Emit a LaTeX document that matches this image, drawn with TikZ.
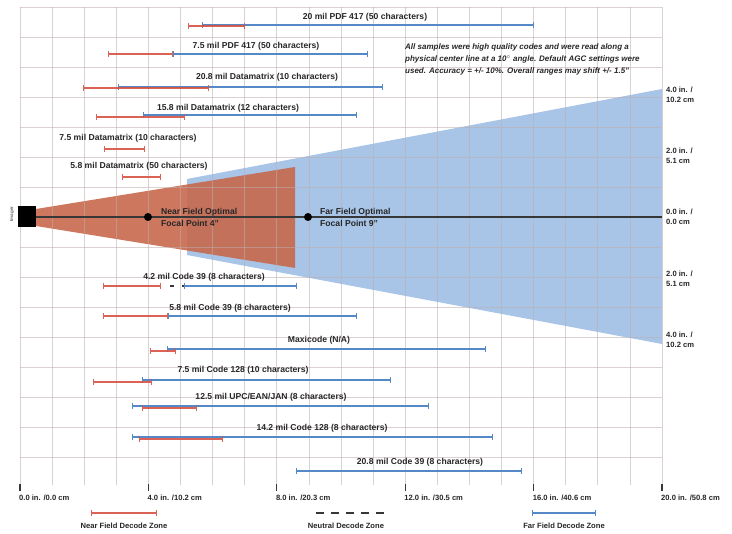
\documentclass[tikz,border=0pt]{standalone}
\usepackage{fontspec}
\setmainfont{Liberation Sans}
\usetikzlibrary{arrows.meta}
\definecolor{gridc}{RGB}{190,172,172}
\definecolor{beamblue}{RGB}{168,197,232}
\definecolor{beamred}{RGB}{200,104,76}
\definecolor{redbar}{RGB}{214,82,68}
\definecolor{bluebar}{RGB}{84,136,198}
\definecolor{darkline}{RGB}{55,55,55}
\tikzset{
  gridline/.style={draw=gridc, line width=0.7pt, opacity=0.55},
  rowlabel/.style={font=\fontsize{8.6}{10}\selectfont\bfseries, text=black!85, inner sep=0pt},
  smalllabel/.style={font=\fontsize{7.6}{9.6}\selectfont\bfseries, text=black!85, inner sep=0pt, align=left},
  redrange/.style={draw=redbar, line width=1.6pt, opacity=0.9, {Bar[width=6pt,line width=1.1pt]}-{Bar[width=6pt,line width=1.1pt]}},
  bluerange/.style={draw=bluebar, line width=1.6pt, {Bar[width=6pt,line width=1.1pt]}-{Bar[width=6pt,line width=1.1pt]}},
  neutralrange/.style={draw=darkline, line width=1.6pt, dash pattern=on 8pt off 7pt},
  axistick/.style={draw=darkline, line width=1.1pt},
  focaldot/.style={circle, fill=black, inner sep=0pt, minimum size=8pt},
}
\begin{document}
\begin{tikzpicture}[x=1pt,y=-1pt]
\useasboundingbox (0,0) rectangle (732,534);
% beams
\fill[beamblue] (187,179) -- (662,89) -- (662,344) -- (187,255) -- cycle;
\fill[beamred, opacity=0.9] (36,209) -- (295,167) -- (295,268) -- (36,226) -- cycle;
% grid
\foreach \i in {0,...,20} { \draw[gridline] ({20+32.1*\i},7) -- ({20+32.1*\i},485); }
\foreach \j in {0,...,15} { \draw[gridline] (20,{7+30*\j}) -- (662,{7+30*\j}); }
% imager and center line
\node[draw=none, fill=black, minimum width=18pt, minimum height=21pt, inner sep=0pt] (imager) at (27,217) {};
\node[rotate=90, font=\fontsize{4.5}{5}\selectfont\bfseries, text=black!60, inner sep=0pt] (imagerlabel) at (12,214) {Imager};
\coordinate (lineend) at (662,217);
\draw[darkline, line width=1.5pt] (imager.east) -- (lineend);
\node[focaldot] (near) at (148,217) {};
\node[focaldot] (far) at (308,217) {};
\node[rowlabel, anchor=west, align=left, font=\fontsize{8.6}{12}\selectfont\bfseries] (nearlab) at (161,217.5) {Near Field Optimal\\Focal Point 4"};
\node[rowlabel, anchor=west, align=left, font=\fontsize{8.6}{12}\selectfont\bfseries] (farlab) at (320,217.5) {Far Field Optimal\\Focal Point 9"};
% right scale labels
\node[smalllabel, anchor=west] (r1) at (666,95) {4.0 in. /\\10.2 cm};
\node[smalllabel, anchor=west] (r2) at (666,155.5) {2.0 in. /\\5.1 cm};
\node[smalllabel, anchor=west] (r3) at (666,216.5) {0.0 in. /\\0.0 cm};
\node[smalllabel, anchor=west] (r4) at (666,278.5) {2.0 in. /\\5.1 cm};
\node[smalllabel, anchor=west] (r5) at (666,339.5) {4.0 in. /\\10.2 cm};
% note
\node[anchor=north west, align=left, inner sep=0pt, font=\fontsize{8.0}{12}\selectfont\bfseries\itshape, text=black!85] (note) at (405,43.5) {All samples were high quality codes and were read along a\\physical center line at a 10$^\circ$ angle.  Default AGC settings were\\used. Accuracy = +/- 10\%. Overall ranges may shift +/- 1.5"};
% rows
\node[rowlabel] (l1) at (365,17) {20 mil PDF 417 (50 characters)};
\draw[bluerange] (202,25) -- (534,25);
\draw[redrange] (188,26) -- (245,26);
\node[rowlabel] (l2) at (256,46) {7.5 mil PDF 417 (50 characters)};
\draw[bluerange] (173,54) -- (368,54);
\draw[redrange] (108,54) -- (173,54);
\node[rowlabel] (l3) at (267,77) {20.8 mil Datamatrix (10 characters)};
\draw[bluerange] (118,87) -- (383,87);
\draw[redrange] (83,88) -- (209,88);
\node[rowlabel] (l4) at (228,108) {15.8 mil Datamatrix (12 characters)};
\draw[bluerange] (143,115) -- (357,115);
\draw[redrange] (96,117) -- (185,117);
\node[rowlabel] (l5) at (128,138) {7.5 mil Datamatrix (10 characters)};
\draw[redrange] (104,149) -- (145,149);
\node[rowlabel] (l6) at (139,166) {5.8 mil Datamatrix (50 characters)};
\draw[redrange] (122,177) -- (161,177);
\node[rowlabel] (l7) at (204,277) {4.2 mil Code 39 (8 characters)};
\draw[redrange] (103,286) -- (161,286);
\draw[neutralrange, dash pattern=on 4pt off 8pt] (170,286) -- (186,286);
\draw[bluerange] (184,286) -- (297,286);
\node[rowlabel] (l8) at (230,308) {5.8 mil Code 39 (8 characters)};
\draw[redrange] (103,316) -- (168,316);
\draw[bluerange] (168,316) -- (357,316);
\node[rowlabel] (l9) at (319,340) {Maxicode (N/A)};
\draw[bluerange] (167,349) -- (486,349);
\draw[redrange] (150,351) -- (176,351);
\node[rowlabel] (l10) at (243,370) {7.5 mil Code 128 (10 characters)};
\draw[bluerange] (142,380) -- (391,380);
\draw[redrange] (93,382) -- (152,382);
\node[rowlabel] (l11) at (271,397) {12.5 mil UPC/EAN/JAN (8 characters)};
\draw[bluerange] (132,406) -- (429,406);
\draw[redrange] (142,408) -- (197,408);
\node[rowlabel] (l12) at (322,428) {14.2 mil Code 128 (8 characters)};
\draw[bluerange] (132,437) -- (493,437);
\draw[redrange] (139,439) -- (223,439);
\node[rowlabel] (l13) at (420,462) {20.8 mil Code 39 (8 characters)};
\draw[bluerange] (296,471) -- (522,471);
% bottom axis
\foreach \i/\t in {0/{0.0 in. /0.0 cm},1/{4.0 in. /10.2 cm},2/{8.0 in. /20.3 cm},3/{12.0 in. /30.5 cm},4/{16.0 in. /40.6 cm},5/{20.0 in. /50.8 cm}} {
  \draw[axistick] ({20+128.4*\i},484) -- ({20+128.4*\i},491);
  \node[smalllabel, anchor=west] (ax\i) at ({19+128.4*\i},497.5) {\t};
}
% legend
\draw[redrange] (91,513) -- (157,513);
\node[smalllabel] (leg1) at (124,526) {Near Field Decode Zone};
\draw[neutralrange] (316,513) -- (384,513);
\node[smalllabel] (leg2) at (346,526) {Neutral Decode Zone};
\draw[bluerange] (532,513) -- (596,513);
\node[smalllabel] (leg3) at (564,526) {Far Field Decode Zone};
\end{tikzpicture}
\end{document}
